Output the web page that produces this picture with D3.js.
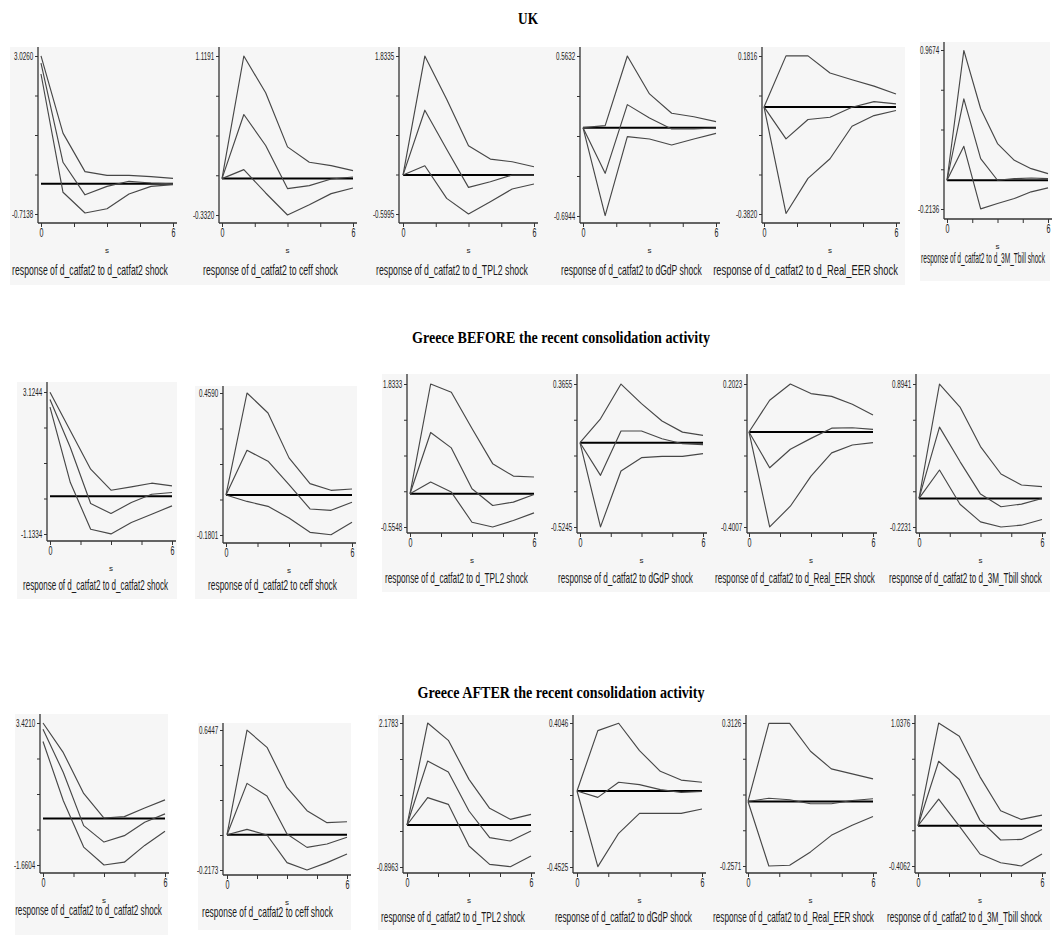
<!DOCTYPE html>
<html>
<head>
<meta charset="utf-8">
<script src="https://cdn.jsdelivr.net/npm/d3@7"></script>
<style>
  body { margin: 0; background: #fff; }
  svg { display: block; }
  .bg { fill: #f6f6f6; }
  .curve { fill: none; stroke: #474747; stroke-width: 1.15px; stroke-linejoin: round; }
  .zero { stroke: #000; stroke-width: 2px; }
  .axisline { stroke: #333; stroke-width: 1.3px; }
  .tick line { stroke: #333; }
  .tick text { fill: #222; font-family: "Liberation Sans", Arial, sans-serif; }
  .caption { fill: #1a1a1a; font-family: "Liberation Sans", Arial, sans-serif; font-size: 14px; }
  .slabel { fill: #222; font-family: "Liberation Sans", Arial, sans-serif; font-size: 8px; }
  .rowtitle { fill: #000; font-family: "Liberation Serif", "Times New Roman", serif; font-weight: bold; font-size: 17px; }
</style>
</head>
<body>
<svg id="chart" width="1055" height="938"></svg>
<script>
// horizon (periods after the shock) and shock names
const horizon = [0, 1, 2, 3, 4, 5, 6];
const shocks = ['d_catfat2', 'ceff', 'd_TPL2', 'dGdP', 'd_Real_EER', 'd_3M_Tbill'];
const rowTitles = ['UK', 'Greece BEFORE the recent consolidation activity', 'Greece AFTER the recent consolidation activity'];

// UK
const ukMax = [3.0260, 1.1191, 1.8335, 0.5632, 0.1816, 0.9674];
const ukMin = [-0.7138, -0.3320, -0.5995, -0.6944, -0.3820, -0.2136];
const ukUpper = [
  [3.03, 1.20, 0.29, 0.20, 0.20, 0.17, 0.13],
  [0, 1.119, 0.783, 0.290, 0.149, 0.119, 0.073],
  [0, 1.833, 1.168, 0.451, 0.246, 0.205, 0.128],
  [0, 0.016, 0.563, 0.265, 0.113, 0.086, 0.047],
  [0, 0.182, 0.182, 0.121, 0.097, 0.074, 0.046],
  [0, 0.964, 0.531, 0.272, 0.148, 0.086, 0.049]
];
const ukMid = [
  [2.86, 0.51, -0.26, -0.06, 0.06, 0.02, 0],
  [0, 0.585, 0.302, -0.091, -0.064, -0.003, 0.015],
  [0, 0.999, 0.399, -0.189, -0.102, 0, 0],
  [0, -0.359, 0.181, 0.076, -0.010, -0.010, -0.003],
  [0, -0.114, -0.045, -0.037, -0.001, 0.019, 0.011],
  [0, 0.605, 0.161, 0, 0.012, 0.017, 0.012]
];
const ukLower = [
  [2.60, -0.20, -0.69, -0.59, -0.24, -0.06, -0.02],
  [0, 0.082, -0.131, -0.332, -0.238, -0.137, -0.085],
  [0, 0.143, -0.359, -0.599, -0.410, -0.215, -0.138],
  [0, -0.691, -0.071, -0.089, -0.136, -0.089, -0.045],
  [0, -0.380, -0.255, -0.185, -0.069, -0.031, -0.013],
  [0, 0.252, -0.213, -0.173, -0.136, -0.086, -0.057]
];

// Greece before consolidation
const bfMax = [3.1244, 0.4590, 1.8333, 0.3655, 0.2023, 0.8941];
const bfMin = [-1.1334, -0.1801, -0.5548, -0.5245, -0.4007, -0.2231];
const bfUpper = [
  [3.12, 1.96, 0.81, 0.18, 0.28, 0.39, 0.31],
  [0, 0.459, 0.369, 0.167, 0.051, 0.021, 0.027],
  [0, 1.833, 1.695, 1.091, 0.503, 0.296, 0.280],
  [0, 0.149, 0.365, 0.243, 0.135, 0.066, 0.046],
  [0, 0.134, 0.202, 0.162, 0.150, 0.117, 0.072],
  [0, 0.894, 0.714, 0.405, 0.191, 0.105, 0.092]
];
const bfMid = [
  [2.90, 1.46, -0.22, -0.52, -0.19, 0.06, 0.11],
  [0, 0.201, 0.152, 0.047, -0.063, -0.069, -0.033],
  [0, 1.024, 0.766, 0.084, -0.196, -0.140, -0.011],
  [0, -0.203, 0.073, 0.073, 0.025, -0.006, -0.012],
  [0, -0.151, -0.073, -0.027, 0.016, 0.018, 0.011],
  [0, 0.557, 0.288, 0.034, -0.065, -0.044, 0]
];
const bfLower = [
  [2.67, 0.41, -0.99, -1.13, -0.79, -0.54, -0.29],
  [0, -0.029, -0.051, -0.104, -0.168, -0.179, -0.123],
  [0, 0.196, 0.028, -0.475, -0.555, -0.447, -0.319],
  [0, -0.524, -0.176, -0.093, -0.085, -0.085, -0.068],
  [0, -0.400, -0.313, -0.186, -0.088, -0.055, -0.045],
  [0, 0.222, -0.045, -0.183, -0.223, -0.209, -0.165]
];

// Greece after consolidation
const afMax = [3.4210, 0.6447, 2.1783, 0.4046, 0.3126, 1.0376];
const afMin = [-1.6604, -0.2173, -0.8963, -0.4525, -0.2571, -0.4062];
const afUpper = [
  [3.42, 2.36, 0.90, 0.02, 0.07, 0.38, 0.67],
  [0, 0.644, 0.538, 0.291, 0.148, 0.074, 0.080],
  [0, 2.178, 1.808, 0.975, 0.356, 0.121, 0.228],
  [0, 0.359, 0.403, 0.240, 0.117, 0.065, 0.052],
  [0, 0.311, 0.311, 0.200, 0.130, 0.110, 0.090],
  [0, 1.037, 0.903, 0.494, 0.151, 0.064, 0.107]
];
const afMid = [
  [3.20, 1.65, -0.25, -0.84, -0.61, -0.13, 0.17],
  [0, 0.316, 0.238, 0.004, -0.078, -0.057, -0.016],
  [0, 1.366, 1.132, 0.299, -0.270, -0.342, -0.128],
  [0, -0.038, 0.052, 0.038, 0.008, -0.008, -0.002],
  [0, 0.013, 0.007, -0.009, -0.009, 0.004, 0.011],
  [0, 0.651, 0.467, 0.057, -0.144, -0.138, -0.037]
];
const afLower = [
  [2.76, 0.64, -1.02, -1.66, -1.56, -0.96, -0.45],
  [0, 0.033, -0.002, -0.172, -0.217, -0.172, -0.119],
  [0, 0.584, 0.441, -0.448, -0.840, -0.890, -0.662],
  [0, -0.450, -0.252, -0.133, -0.133, -0.133, -0.107],
  [0, -0.257, -0.254, -0.201, -0.135, -0.095, -0.060],
  [0, 0.269, -0.003, -0.285, -0.373, -0.406, -0.285]
];

// page layout (pixels)
// l/r: x of period 0 / 6, t/b: y of top / bottom tick, ax: y axis x, xa: x axis y,
// yt: top of the y axis line, c0/c1: caption span, cy: caption centre
const ukLayout = [
  {l: 41, r: 173, t: 56, b: 214, ax: 38, xa: 223, yt: 47, c0: 12, c1: 168, cy: 270},
  {l: 222, r: 353, t: 56, b: 215, ax: 219, xa: 223, yt: 47, c0: 203, c1: 338, cy: 270},
  {l: 403, r: 534, t: 56, b: 214, ax: 399, xa: 223, yt: 47, c0: 376, c1: 528, cy: 270},
  {l: 583, r: 716, t: 56, b: 216, ax: 580, xa: 223, yt: 47, c0: 561, c1: 702, cy: 270},
  {l: 764, r: 896, t: 56, b: 214, ax: 762, xa: 223, yt: 47, c0: 713, c1: 898, cy: 270},
  {l: 947, r: 1048, t: 50, b: 209, ax: 944, xa: 219, yt: 42, c0: 921, c1: 1045, cy: 258}
];
const bfLayout = [
  {l: 50, r: 172, t: 392, b: 534, ax: 47, xa: 541, yt: 382, c0: 23, c1: 168, cy: 585},
  {l: 226, r: 352, t: 393, b: 535, ax: 223, xa: 543, yt: 386, c0: 208, c1: 337, cy: 585},
  {l: 410, r: 534, t: 384, b: 527, ax: 407, xa: 533, yt: 374, c0: 385, c1: 528, cy: 578},
  {l: 580, r: 703, t: 384, b: 527, ax: 577, xa: 533, yt: 374, c0: 558, c1: 693, cy: 578},
  {l: 749, r: 873, t: 384, b: 527, ax: 747, xa: 533, yt: 374, c0: 715, c1: 875, cy: 578},
  {l: 919, r: 1042, t: 384, b: 527, ax: 916, xa: 533, yt: 374, c0: 889, c1: 1042, cy: 578}
];
const afLayout = [
  {l: 43, r: 165, t: 723, b: 865, ax: 40, xa: 873, yt: 714, c0: 15, c1: 162, cy: 910},
  {l: 227, r: 347, t: 730, b: 870, ax: 223, xa: 875, yt: 723, c0: 202, c1: 333, cy: 912},
  {l: 407, r: 531, t: 723, b: 867, ax: 403, xa: 873, yt: 715, c0: 381, c1: 525, cy: 917},
  {l: 577, r: 702, t: 723, b: 867, ax: 573, xa: 873, yt: 715, c0: 555, c1: 692, cy: 917},
  {l: 748, r: 873, t: 723, b: 866, ax: 746, xa: 873, yt: 715, c0: 713, c1: 874, cy: 917},
  {l: 918, r: 1042, t: 723, b: 866, ax: 915, xa: 873, yt: 715, c0: 887, c1: 1042, cy: 917}
];
const bgBoxes = [
  [10, 47, 895, 238], [920, 42, 130, 239],
  [17, 382, 160, 217], [195, 386, 162, 213], [382, 374, 668, 218],
  [15, 714, 153, 221], [198, 723, 153, 207], [378, 715, 672, 215]
];
const titlePos = [[528, 18, 20], [561, 337, 298], [561, 692, 287]];

const svg = d3.select('#chart');

// squeeze a text horizontally to a given width (the picture uses narrow fonts)
function squeeze(sel, cx, cy, width) {
  let len = sel.node().getComputedTextLength();
  sel.attr('x', 0).attr('y', 0)
    .attr('transform', 'translate(' + cx + ',' + cy + ') scale(' + (width / len) + ',1)');
}

// grey panel backgrounds
svg.selectAll('rect.bg')
  .data(bgBoxes)
  .enter()
  .append('rect')
  .attr('class', 'bg')
  .attr('x', d => d[0]).attr('y', d => d[1])
  .attr('width', d => d[2]).attr('height', d => d[3]);

// row titles
rowTitles.forEach((t, i) => {
  let txt = svg.append('text')
    .attr('class', 'rowtitle')
    .attr('dy', '0.35em')
    .attr('text-anchor', 'middle')
    .text(t);
  squeeze(txt, titlePos[i][0], titlePos[i][1], titlePos[i][2]);
});

const line = d3.line();

function drawPanel(lay, lo, hi, series, shock) {
  let x = d3.scaleLinear().domain([0, 6]).range([lay.l, lay.r]);
  let y = d3.scaleLinear().domain([lo, hi]).range([lay.b, lay.t]);
  let g = svg.append('g');

  // y axis: five ticks, only the ends labelled
  let yTicks = d3.range(5).map(i => lo + i * (hi - lo) / 4);
  let yAxis = d3.axisLeft(y)
    .tickValues(yTicks)
    .tickSize(3)
    .tickSizeOuter(0)
    .tickFormat((d, i) => (i == 0 || i == 4) ? d.toFixed(4) : '');
  let ya = g.append('g').attr('transform', 'translate(' + lay.ax + ',0)').call(yAxis);
  ya.select('.domain').remove();
  ya.selectAll('.tick text')
    .style('font-size', '11px')
    .attr('x', -8.5)
    .attr('transform', 'scale(0.57,1)');

  // x axis: 0 ... 6
  let xAxis = d3.axisBottom(x)
    .tickValues([0, 1.5, 3, 4.5, 6])
    .tickSize(4)
    .tickSizeOuter(0)
    .tickFormat(d => (d == 0 || d == 6) ? d : '');
  let xa = g.append('g').attr('transform', 'translate(0,' + lay.xa + ')').call(xAxis);
  xa.select('.domain').remove();
  xa.selectAll('.tick text')
    .style('font-size', '13px')
    .attr('y', 5)
    .attr('transform', 'scale(0.55,1)');

  g.append('line').attr('class', 'axisline')
    .attr('x1', lay.ax).attr('x2', lay.ax)
    .attr('y1', lay.yt).attr('y2', lay.xa);
  g.append('line').attr('class', 'axisline')
    .attr('x1', lay.ax).attr('x2', lay.r + 4)
    .attr('y1', lay.xa).attr('y2', lay.xa);

  // zero line
  g.append('line').attr('class', 'zero')
    .attr('x1', x(0)).attr('x2', x(6))
    .attr('y1', y(0)).attr('y2', y(0));

  // response and bands
  g.selectAll('path.curve')
    .data(series)
    .enter()
    .append('path')
    .attr('class', 'curve')
    .attr('d', s => line(s.map((v, i) => [x(horizon[i]), y(v)])));

  g.append('text').attr('class', 'slabel')
    .attr('x', x(3)).attr('y', lay.xa + 27)
    .attr('dy', '0.35em')
    .attr('text-anchor', 'middle')
    .text('s');

  let cap = g.append('text').attr('class', 'caption')
    .attr('dy', '0.35em')
    .attr('text-anchor', 'middle')
    .text('response of d_catfat2 to ' + shock + ' shock');
  squeeze(cap, (lay.c0 + lay.c1) / 2, lay.cy, lay.c1 - lay.c0);
}

for (let i = 0; i < shocks.length; i++) {
  drawPanel(ukLayout[i], ukMin[i], ukMax[i], [ukUpper[i], ukMid[i], ukLower[i]], shocks[i]);
  drawPanel(bfLayout[i], bfMin[i], bfMax[i], [bfUpper[i], bfMid[i], bfLower[i]], shocks[i]);
  drawPanel(afLayout[i], afMin[i], afMax[i], [afUpper[i], afMid[i], afLower[i]], shocks[i]);
}
</script>
</body>
</html>
